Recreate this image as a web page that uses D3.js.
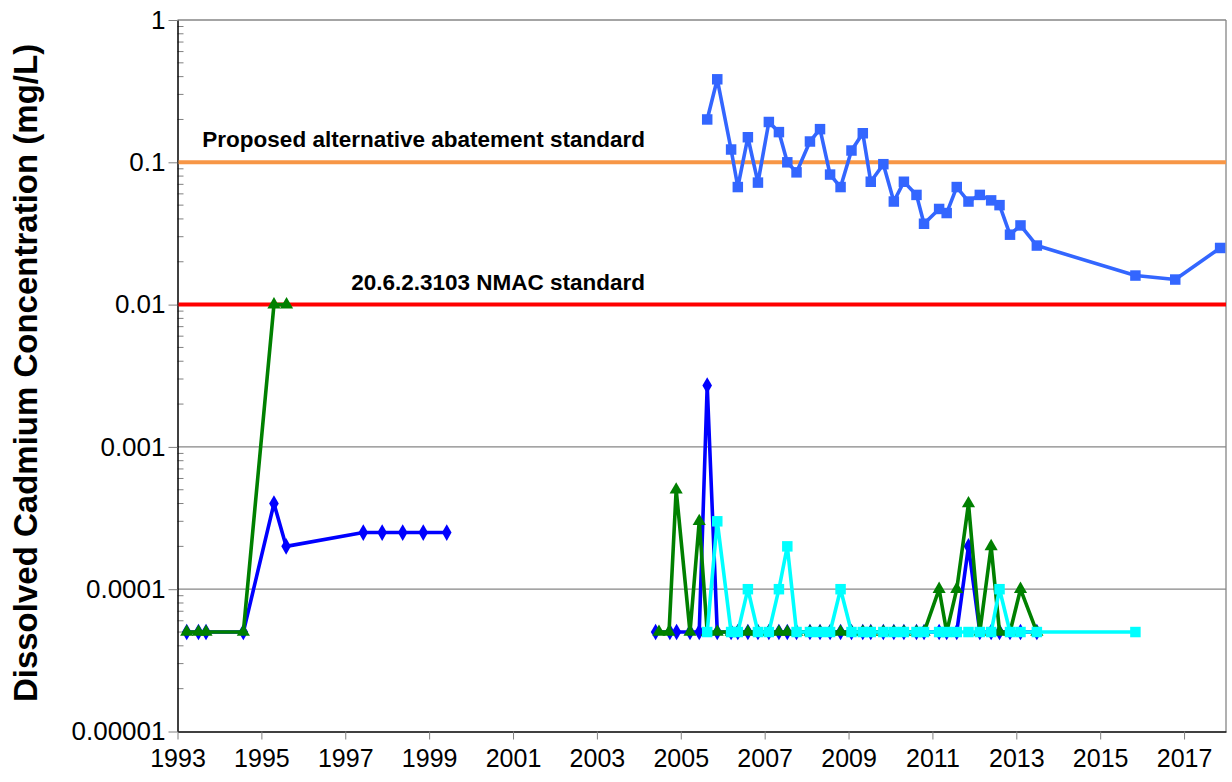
<!DOCTYPE html>
<html>
<head>
<meta charset="utf-8">
<script src="https://cdn.jsdelivr.net/npm/d3@7"></script>
<style>
  html, body { margin: 0; padding: 0; background: #fff; }
  svg { display: block; font-family: Arial, "Liberation Sans", sans-serif; }
</style>
</head>
<body>
<div id="chart"></div>
<script>
// Dissolved cadmium over time, log scale.

const yTicks = [1e-5, 1e-4, 1e-3, 1e-2, 1e-1, 1];
const yTickLabels = ["0.00001", "0.0001", "0.001", "0.01", "0.1", "1"];
const xTicks = [1993, 1995, 1997, 1999, 2001, 2003, 2005, 2007, 2009, 2011, 2013, 2015, 2017];

// shared sampling dates 2005-2013 (decimal years)
const sampleDates = [2005.63, 2005.87, 2006.2, 2006.36, 2006.6, 2006.84, 2007.1, 2007.34, 2007.54, 2007.76,
  2008.08, 2008.32, 2008.56, 2008.81, 2009.07, 2009.34, 2009.53, 2009.83, 2010.08, 2010.32,
  2010.62, 2010.8, 2011.16, 2011.34, 2011.58, 2011.86, 2012.13, 2012.4, 2012.6, 2012.85,
  2013.1, 2013.49];

// light blue squares: high well
const hiDates = sampleDates.concat([2015.84, 2016.79, 2017.86]);
const hiValues = [0.2, 0.383, 0.123, 0.067, 0.15, 0.072, 0.192, 0.163, 0.1, 0.085,
  0.14, 0.171, 0.082, 0.067, 0.121, 0.16, 0.073, 0.097, 0.053, 0.073,
  0.059, 0.037, 0.047, 0.044, 0.067, 0.053, 0.059, 0.054, 0.05, 0.031,
  0.036, 0.026, 0.016, 0.015, 0.025];

// blue diamonds
const blueDates = [1993.22, 1993.5, 1993.68, 1994.57, 1995.3, 1995.59, 1997.43, 1997.88, 1998.37, 1998.86, 1999.42,
  null,
  2004.4, 2004.74, 2004.9, 2005.22, 2005.44].concat(sampleDates);
const blueValues = [0.00005, 0.00005, 0.00005, 0.00005, 0.0004, 0.0002, 0.00025, 0.00025, 0.00025, 0.00025, 0.00025,
  null,
  0.00005, 0.00005, 0.00005, 0.00005, 0.00005,
  0.0027, 0.00005, 0.00005, 0.00005, 0.00005, 0.00005, 0.00005, 0.00005, 0.00005, 0.00005,
  0.00005, 0.00005, 0.00005, 0.00005, 0.00005, 0.00005, 0.00005, 0.00005, 0.00005, 0.00005,
  0.00005, 0.00005, 0.00005, 0.00005, 0.00005, 0.0002, 0.00005, 0.00005, 0.00005, 0.00005,
  0.00005, 0.00005];

// green triangles
const greenDates = [1993.22, 1993.5, 1993.68, 1994.57, 1995.3, 1995.6,
  null,
  2004.48, 2004.72, 2004.89, 2005.22, 2005.44].concat(sampleDates);
const greenValues = [0.00005, 0.00005, 0.00005, 0.00005, 0.01, 0.01,
  null,
  0.00005, 0.00005, 0.0005, 0.00005, 0.0003,
  0.00005, 0.00005, 0.00005, 0.00005, 0.00005, 0.00005, 0.00005, 0.00005, 0.00005, 0.00005,
  0.00005, 0.00005, 0.00005, 0.00005, 0.00005, 0.00005, 0.00005, 0.00005, 0.00005, 0.00005,
  0.00005, 0.00005, 0.0001, 0.00005, 0.0001, 0.0004, 0.00005, 0.0002, 0.00005, 0.00005,
  0.0001, 0.00005];

// cyan squares
const cyanDates = sampleDates.concat([2015.84]);
const cyanValues = [0.00005, 0.0003, 0.00005, 0.00005, 0.0001, 0.00005, 0.00005, 0.0001, 0.0002, 0.00005,
  0.00005, 0.00005, 0.00005, 0.0001, 0.00005, 0.00005, 0.00005, 0.00005, 0.00005, 0.00005,
  0.00005, 0.00005, 0.00005, 0.00005, 0.00005, 0.00005, 0.00005, 0.00005, 0.0001, 0.00005,
  0.00005, 0.00005, 0.00005];

const standards = [
  { value: 0.1, label: "Proposed alternative abatement standard", color: "#F79646" },
  { value: 0.01, label: "20.6.2.3103 NMAC standard", color: "#FF0000" },
];

const series = [
  { dates: hiDates, values: hiValues, color: "#3366FF", symbol: d3.symbolSquare, size: 110 },
  { dates: blueDates, values: blueValues, color: "#0000FF", symbol: d3.symbolDiamond, size: 80 },
  { dates: greenDates, values: greenValues, color: "#008000", symbol: d3.symbolTriangle, size: 75 },
  { dates: cyanDates, values: cyanValues, color: "#00FFFF", symbol: d3.symbolSquare, size: 110 },
];

const W = 1232, H = 782;
const plot = { left: 177.5, right: 1226, top: 20, bottom: 731.5 };
const FONT = "Arial, Liberation Sans, sans-serif";

const x = d3.scaleLinear().domain([1993, 2018]).range([plot.left, plot.right]);
const y = d3.scaleLog().domain([1e-5, 1]).range([plot.bottom, plot.top]);

const svg = d3.select("#chart").append("svg").attr("width", W).attr("height", H);

// gridlines at each decade + right border
svg.append("g").selectAll("line").data(yTicks.slice(1)).enter().append("line")
  .attr("x1", plot.left).attr("x2", plot.right)
  .attr("y1", d => y(d)).attr("y2", d => y(d))
  .attr("stroke", "#868686").attr("stroke-width", 1.3);
svg.append("line")
  .attr("x1", plot.right).attr("x2", plot.right)
  .attr("y1", plot.top).attr("y2", plot.bottom)
  .attr("stroke", "#868686").attr("stroke-width", 1.3);

// minor ticks (inside) on the y axis
const minors = [];
for (let e = -5; e < 0; e++) for (let m = 2; m <= 9; m++) minors.push(m * Math.pow(10, e));
svg.append("g").selectAll("line").data(minors).enter().append("line")
  .attr("x1", plot.left).attr("x2", plot.left + 6)
  .attr("y1", d => y(d)).attr("y2", d => y(d))
  .attr("stroke", "#808080").attr("stroke-width", 1);

// y axis
const yAxis = d3.axisLeft(y).tickValues(yTicks)
  .tickFormat((d, i) => yTickLabels[i]).tickSizeInner(9).tickSizeOuter(0).tickPadding(3);
const gy = svg.append("g").attr("transform", `translate(${plot.left},0)`).call(yAxis);
gy.select(".domain").attr("stroke", "#000").attr("stroke-width", 1.5);
gy.selectAll(".tick line").attr("stroke", "#808080");
gy.selectAll(".tick text").attr("font-size", 26).attr("fill", "#000").attr("font-family", FONT);

// x axis
const xAxis = d3.axisBottom(x).tickValues(xTicks).tickFormat(d3.format("d"))
  .tickSizeInner(8).tickSizeOuter(0).tickPadding(10);
const gx = svg.append("g").attr("transform", `translate(0,${plot.bottom})`).call(xAxis);
gx.select(".domain").attr("stroke", "#000").attr("stroke-width", 1.5);
gx.selectAll(".tick line").attr("stroke", "#808080");
gx.selectAll(".tick text").attr("font-size", 25).attr("fill", "#000").attr("font-family", FONT);

// standards
const gStd = svg.append("g");
gStd.selectAll("line").data(standards).enter().append("line")
  .attr("x1", plot.left + 1).attr("x2", plot.right)
  .attr("y1", d => y(d.value)).attr("y2", d => y(d.value))
  .attr("stroke", d => d.color).attr("stroke-width", 4);
gStd.selectAll("text").data(standards).enter().append("text")
  .attr("x", 645).attr("y", d => y(d.value) - 15)
  .attr("text-anchor", "end")
  .attr("font-size", 22.5).attr("font-weight", "bold")
  .text(d => d.label);

// series
const line = d3.line()
  .defined(d => d.v != null)
  .x(d => x(d.t)).y(d => y(d.v));

for (const s of series) {
  const pts = s.dates.map((t, i) => ({ t, v: s.values[i] }));
  const g = svg.append("g");
  g.append("path").datum(pts)
    .attr("d", line)
    .attr("fill", "none").attr("stroke", s.color).attr("stroke-width", 3.6)
    .attr("stroke-linejoin", "round");
  g.selectAll("path.mk").data(pts.filter(d => d.v != null)).enter().append("path")
    .attr("class", "mk")
    .attr("d", d3.symbol().type(s.symbol).size(s.size))
    .attr("transform", d => `translate(${x(d.t)},${y(d.v)})`)
    .attr("fill", s.color);
}

// y title
svg.append("text")
  .attr("transform", `translate(37,373) rotate(-90)`)
  .attr("text-anchor", "middle")
  .attr("font-size", 33).attr("font-weight", "bold")
  .text("Dissolved Cadmium Concentration (mg/L)");
</script>
</body>
</html>
